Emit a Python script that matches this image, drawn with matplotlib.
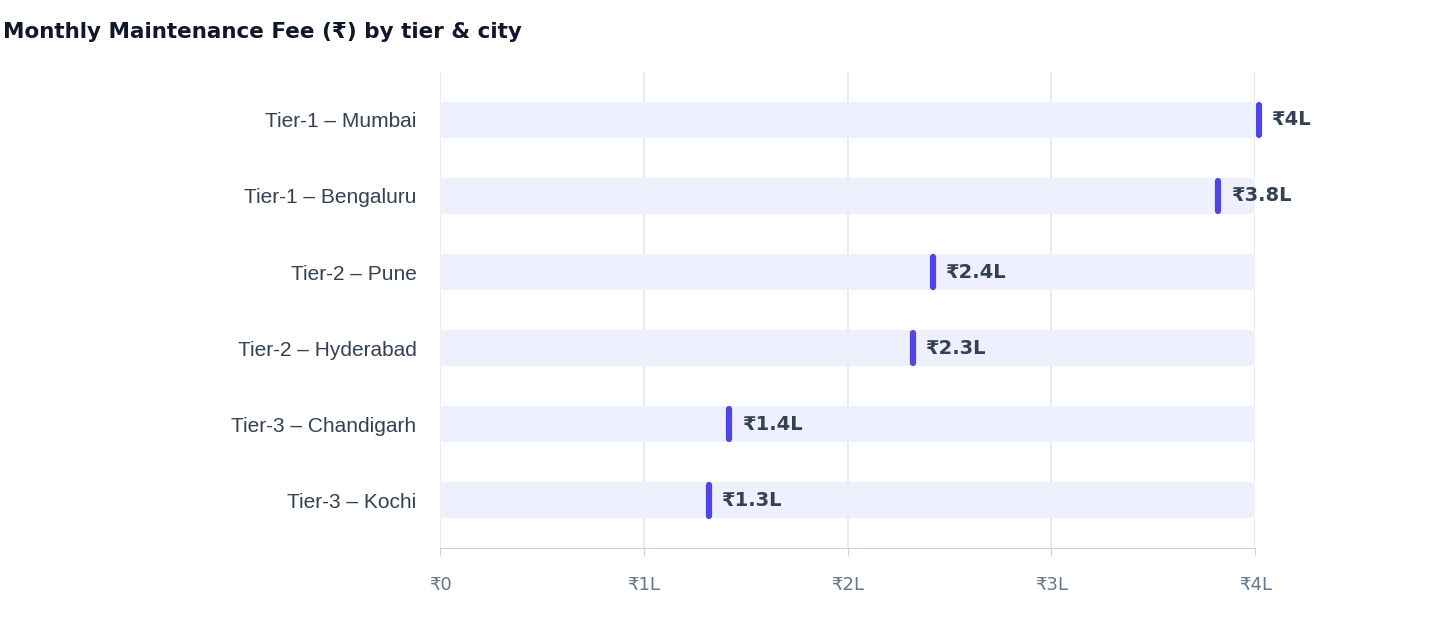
import matplotlib.pyplot as plt

cities = ["Tier-1 – Mumbai", "Tier-1 – Bengaluru", "Tier-2 – Pune",
          "Tier-2 – Hyderabad", "Tier-3 – Chandigarh", "Tier-3 – Kochi"]
fees_lakh = [4.02, 3.82, 2.42, 2.32, 1.42, 1.32]
value_labels = ["₹4L", "₹3.8L", "₹2.4L", "₹2.3L", "₹1.4L", "₹1.3L"]
tick_vals = [0, 1, 2, 3, 4]
tick_labels = ["₹0", "₹1L", "₹2L", "₹3L", "₹4L"]

plt.rcParams['font.family'] = ['Liberation Sans', 'DejaVu Sans']

fig = plt.figure(figsize=(14.4, 6.36), dpi=100)
ax = fig.add_axes([0.3056, 0.138, 0.566, 0.749])

track_max = 4.0
ypos = list(range(len(cities)))
ax.barh(ypos, [track_max] * len(cities), height=0.47, color="#EEF0FD", zorder=2)

for y, v, lab in zip(ypos, fees_lakh, value_labels):
    ax.plot([v, v], [y - 0.2, y + 0.2], color="#4F46E5", lw=4.5,
            solid_capstyle="round", zorder=4, clip_on=False)
    ax.text(v + 0.06, y, lab, va="center", ha="left", fontsize=14,
            fontweight="bold", color="#334155", zorder=5, family=['DejaVu Sans'])

ax.set_xlim(0, 4.0)
ax.set_ylim(5.63, -0.63)
ax.set_yticks(ypos)
ax.set_yticklabels(cities, fontsize=15, color="#334155")
ax.set_xticks(tick_vals)
ax.set_xticklabels(tick_labels, fontsize=13, color="#64748B", family=['DejaVu Sans'])
ax.tick_params(axis="y", length=0, pad=17)
ax.tick_params(axis="x", length=6, color="#CBD5E1", pad=14)
ax.grid(axis="x", color="#E2E8F0", lw=1.2, zorder=0)
for s in ["top", "right", "left"]:
    ax.spines[s].set_visible(False)
ax.spines["bottom"].set_color("#CBD5E1")

fig.text(0.002, 0.95, "Monthly Maintenance Fee (₹) by tier & city", fontsize=15.5,
         fontweight="bold", color="#0F172A", va="center", family=['DejaVu Sans'])

fig.savefig("out.png", dpi=100)
